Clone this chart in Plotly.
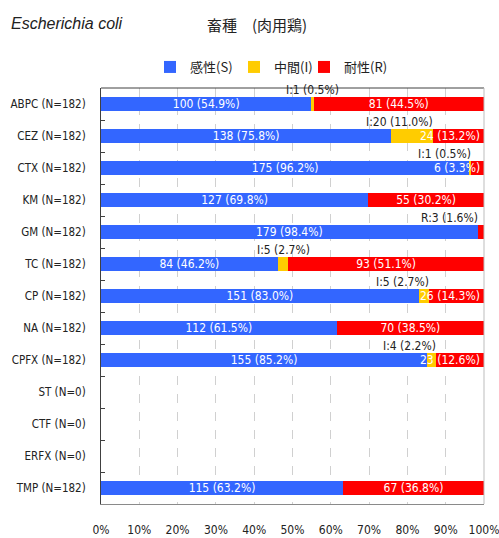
import plotly.graph_objects as go

# Antimicrobial susceptibility of Escherichia coli (broiler isolates)
drugs = ["ABPC", "CEZ", "CTX", "KM", "GM", "TC", "CP", "NA", "CPFX", "ST", "CTF", "ERFX", "TMP"]
n_tested = [182, 182, 182, 182, 182, 182, 182, 182, 182, 0, 0, 0, 182]
susceptible = [100, 138, 175, 127, 179, 84, 151, 112, 155, 0, 0, 0, 115]
intermediate = [1, 20, 1, 0, 0, 5, 5, 0, 4, 0, 0, 0, 0]
resistant = [81, 24, 6, 55, 3, 93, 26, 70, 23, 0, 0, 0, 67]

series_names = ["感性(S)", "中間(I)", "耐性(R)"]
series_colors = ["#3366FF", "#FFCC00", "#FF0000"]
x_ticks = [0, 10, 20, 30, 40, 50, 60, 70, 80, 90, 100]

labels = [f"{d} (N={n})" for d, n in zip(drugs, n_tested)]

def pct(counts):
    return [c / n * 100 if n else 0 for c, n in zip(counts, n_tested)]

s_pct, i_pct, r_pct = pct(susceptible), pct(intermediate), pct(resistant)

W, H = 499, 538
ML, MR, MT, MB = 101, 15, 88, 34
BAR_W = 0.42
TXT_FONT = "DejaVu Sans Condensed, Liberation Sans Narrow, Noto Sans CJK JP, sans-serif"
JP_FONT = "Noto Sans CJK JP, sans-serif"
DARK_LINE = "#404040"
LIGHT_LINE = "#BDBDBD"

def fmt(c, p):
    return f"{c} ({p:.1f}%)"

# white labels centred in the segment when there is room
s_text = [fmt(c, p) if c > 0 else "" for c, p in zip(susceptible, s_pct)]
r_center = [p >= 20 for p in r_pct]
r_text = [fmt(c, p) if ok else "" for c, p, ok in zip(resistant, r_pct, r_center)]

fig = go.Figure()
legend_ids = ["legend", "legend2", "legend3"]
for name, color, vals, txt, lg in zip(
        series_names, series_colors, [s_pct, i_pct, r_pct],
        [s_text, [""] * len(drugs), r_text], legend_ids):
    fig.add_trace(go.Bar(
        y=labels, x=vals, orientation="h", name=name, legend=lg,
        marker=dict(color=color, line=dict(width=0)),
        width=BAR_W, text=txt, textposition="inside", textangle=0,
        insidetextanchor="middle", constraintext="none",
        insidetextfont=dict(color="white", size=12, family=TXT_FONT),
        hoverinfo="skip",
    ))

annotations = []
# narrow red segments: white label pushed against the right end
for k in range(len(drugs)):
    if 3 <= r_pct[k] < 20:
        annotations.append(dict(
            x=100, y=k, xref="x", yref="y", xanchor="right", yanchor="middle",
            text=fmt(resistant[k], r_pct[k]), showarrow=False, xshift=-2,
            font=dict(color="white", size=12, family=TXT_FONT)))

# callouts above the bar for small segments
centered = {"ABPC", "TC"}
for k, d in enumerate(drugs):
    if n_tested[k] == 0:
        continue
    if intermediate[k] > 0:
        start, end = s_pct[k], s_pct[k] + i_pct[k]
        txt = f"I:{intermediate[k]} ({i_pct[k]:.1f}%)"
    elif 0 < r_pct[k] < 3:
        start, end = s_pct[k] + i_pct[k], 100
        txt = f"R:{resistant[k]} ({r_pct[k]:.1f}%)"
    else:
        continue
    if d in centered:
        xa, xx, xs = "center", (start + end) / 2, 0
    else:
        xa, xx, xs = "right", end, 2 if end < 100 else -4
    annotations.append(dict(
        x=xx, y=k - BAR_W / 2, xref="x", yref="y", xanchor=xa, yanchor="bottom",
        text=txt, showarrow=False, xshift=xs, yshift=-2,
        font=dict(color="#222222", size=12, family=TXT_FONT)))

plot_w = W - ML - MR
plot_h = H - MT - MB

def px_to_paper(px, py):
    return (px - ML) / plot_w, (H - py - MB) / plot_h

tx, ty = px_to_paper(9, 23)
annotations.append(dict(
    x=tx, y=ty, xref="paper", yref="paper", text="<i>Escherichia coli</i>",
    showarrow=False, xanchor="left", yanchor="middle",
    font=dict(size=16, color="#222222", family="Liberation Sans, Arial, sans-serif")))
tx, ty = px_to_paper(257, 25)
annotations.append(dict(
    x=tx, y=ty, xref="paper", yref="paper", text="畜種　(肉用鶏)",
    showarrow=False, xanchor="center", yanchor="middle",
    font=dict(size=15, color="#222222", family=JP_FONT)))

# one legend box per series, laid out in a row
legend_x = [150, 234, 304]
legend_style = dict(orientation="h", xref="container", yref="container",
                    xanchor="left", yanchor="top", itemwidth=30,
                    font=dict(size=13, family=JP_FONT, color="#222222"),
                    bgcolor="rgba(0,0,0,0)")
legend_layout = {lg: dict(legend_style, x=lx / W, y=1 - 52 / H)
                 for lg, lx in zip(legend_ids, legend_x)}

# frame: dark top edge, light right edge
shapes = [
    dict(type="line", xref="paper", yref="paper", x0=0, x1=1, y0=1, y1=1,
         line=dict(color=DARK_LINE, width=1), layer="above"),
    dict(type="line", xref="paper", yref="paper", x0=1, x1=1, y0=0, y1=1,
         line=dict(color=LIGHT_LINE, width=1), layer="above"),
]

fig.update_layout(
    width=W, height=H,
    margin=dict(l=ML, r=MR, t=MT, b=MB, autoexpand=False),
    barmode="stack",
    plot_bgcolor="white", paper_bgcolor="white",
    showlegend=True,
    uniformtext=dict(minsize=12, mode="show"),
    xaxis=dict(range=[0, 100], tickvals=x_ticks, ticktext=[f"{v}%" for v in x_ticks],
               showgrid=True, gridcolor="#D0D0D0", griddash="dash", gridwidth=1,
               zeroline=False, showline=True, linecolor="#8A8A8A", linewidth=1,
               ticks="", ticklabelstandoff=15, ticklabeloverflow="allow",
               tickfont=dict(size=12, family=TXT_FONT, color="#222222")),
    yaxis=dict(categoryorder="array", categoryarray=labels, autorange="reversed",
               showgrid=False, showline=True, linecolor=DARK_LINE, linewidth=1,
               ticks="inside", tickson="boundaries", ticklen=4,
               tickcolor=DARK_LINE, ticklabelstandoff=12,
               tickfont=dict(size=11.5, family=TXT_FONT, color="#222222")),
    annotations=annotations,
    shapes=shapes,
    **legend_layout,
)

fig.write_html("out.html")
